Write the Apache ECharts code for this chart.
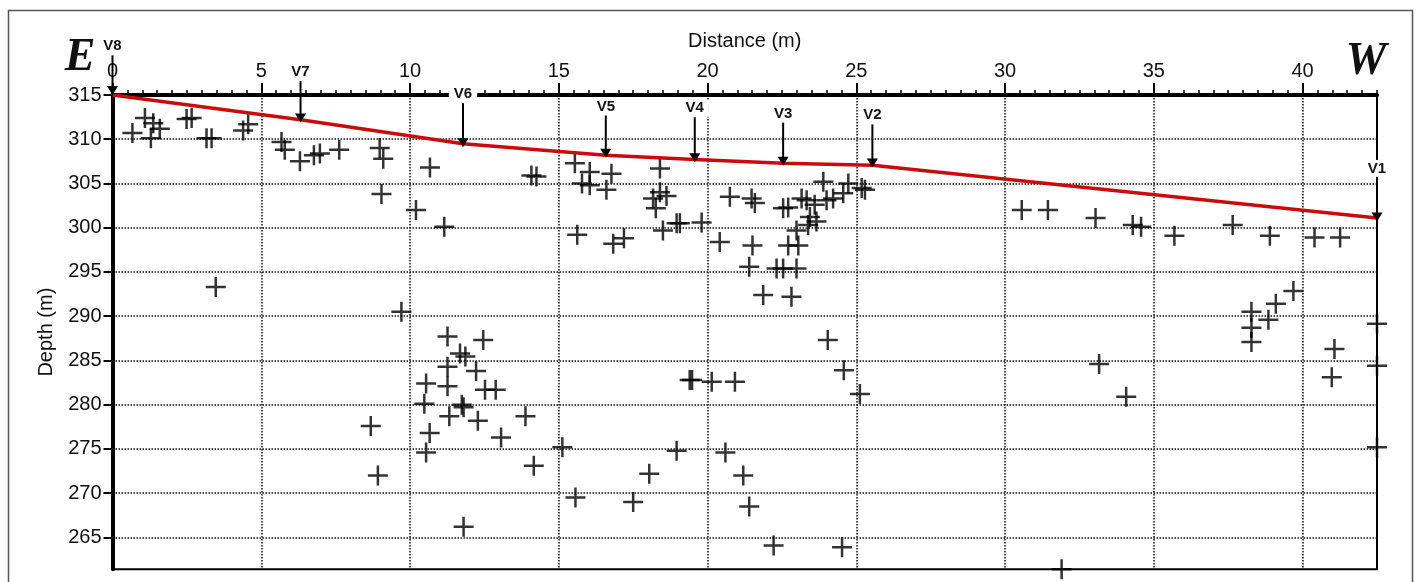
<!DOCTYPE html>
<html>
<head>
<meta charset="utf-8">
<script src="https://cdn.jsdelivr.net/npm/echarts@6.0.0/dist/echarts.min.js"></script>
<style>
  html, body { margin: 0; padding: 0; background: #fff; }
  #profile { width: 1421px; height: 582px; }
</style>
</head>
<body>
<div id="profile"></div>
<script>
// tick values
var xTicks = [0, 5, 10, 15, 20, 25, 30, 35, 40];
var yTicks = [265, 270, 275, 280, 285, 290, 295, 300, 305, 310, 315];

// survey stations (V8 at the east end, V1 at the west end)
var stationNames = ['V8', 'V7', 'V6', 'V5', 'V4', 'V3', 'V2', 'V1'];
var stationX = [0, 6.32, 11.78, 16.58, 19.57, 22.54, 25.54, 42.5];
var stationLabelZ = [320.5, 317.6, 315.1, 313.7, 313.5, 312.9, 312.7, 306.7];
var stationTipZ = [315, 311.9, 309.1, 307.9, 307.4, 307.0, 306.8, 300.7];
// ground surface elevation at the stations
var groundZ = [315, 312.2, 309.5, 308.2, 307.7, 307.3, 307.05, 301.1];

// located events: [distance, elevation]
var events = [
    [0.67, 310.7], [1.09, 312.4], [1.29, 310.1], [1.37, 311.8], [1.59, 311.2],
    [2.49, 312.3], [2.66, 312.4], [3.16, 310.1], [3.33, 310.1], [4.39, 311.0],
    [4.56, 311.7], [5.68, 309.7], [5.79, 308.8], [6.30, 307.5], [6.77, 308.2],
    [6.97, 308.4], [7.62, 308.8], [8.98, 309.0], [9.10, 307.8], [9.04, 303.8],
    [10.67, 306.8], [10.20, 302.0], [11.15, 300.1], [14.08, 305.9], [14.25, 305.8],
    [3.47, 293.3], [9.71, 290.5],
    [15.54, 307.3], [16.04, 306.3], [15.78, 305.0], [16.04, 304.8], [16.77, 306.1],
    [16.6, 304.3], [18.4, 306.7], [18.17, 303.3], [18.4, 304.0], [18.62, 303.6],
    [18.26, 302.2], [18.5, 299.7], [18.96, 300.5], [19.07, 300.5], [19.8, 300.6],
    [20.75, 303.5], [21.48, 303.3], [21.59, 302.8], [20.41, 298.4], [21.51, 298.0],
    [21.4, 295.6], [21.87, 292.4], [22.82, 292.2], [22.54, 302.2], [22.71, 302.3],
    [23.89, 305.2], [23.16, 303.3], [23.33, 303.1], [23.6, 302.6], [23.44, 301.2],
    [23.66, 300.7], [24.0, 303.1], [24.22, 303.3], [22.99, 299.7], [23.38, 300.3],
    [22.71, 298.0], [23.05, 298.0], [22.32, 295.4], [22.54, 295.4], [22.99, 295.4],
    [24.56, 303.9], [24.73, 305.0], [25.18, 304.5], [25.29, 304.3],
    [15.62, 299.2], [16.83, 298.2], [17.19, 298.8],
    [11.26, 287.7], [12.46, 287.3], [11.86, 285.45], [11.68, 285.8], [11.26, 284.3],
    [12.22, 283.8], [10.54, 282.4], [11.26, 282.1], [12.52, 281.7], [12.88, 281.7],
    [10.48, 280.1], [11.8, 279.7], [11.74, 280.0], [11.32, 278.7], [12.28, 278.2],
    [13.88, 278.7], [10.66, 276.8], [10.54, 274.6], [13.06, 276.3], [14.16, 273.1],
    [8.68, 277.6], [8.92, 272.0], [11.8, 266.2], [15.12, 275.2], [15.56, 269.5],
    [17.5, 269.0], [18.04, 272.2], [18.96, 274.8], [19.4, 282.8], [19.48, 282.8],
    [20.14, 282.6], [20.92, 282.6], [20.6, 274.6], [21.2, 272.0], [21.4, 268.5],
    [22.22, 264.1], [24.52, 263.9], [24.04, 287.3], [24.58, 283.9], [25.12, 281.2],
    [30.56, 302.0], [31.44, 302.0], [33.04, 301.1], [34.29, 300.3], [34.57, 300.1],
    [35.69, 299.1], [37.65, 300.3], [38.9, 299.1], [40.4, 298.9], [41.26, 298.9],
    [39.69, 292.85], [39.1, 291.4], [38.28, 290.5], [38.85, 289.6], [38.28, 288.7],
    [38.28, 287.1], [41.07, 286.3], [40.98, 283.1], [42.5, 289.15], [42.5, 284.4],
    [42.5, 275.2], [33.16, 284.6], [34.07, 280.9], [31.9, 261.4]
];

var ground = stationX.map(function (x, i) { return [x, groundZ[i]]; });
var stations = stationX.map(function (x, i) { return [x, stationLabelZ[i], stationTipZ[i]]; });

var font = 'Liberation Sans, Arial, sans-serif';
var chart = echarts.init(document.getElementById('profile'));

function renderStation(params, api) {
    var top = api.coord([api.value(0), api.value(1)]);
    var tip = api.coord([api.value(0), api.value(2)]);
    return {
        type: 'group',
        children: [
            {
                type: 'line',
                shape: { x1: tip[0], y1: top[1] + 9, x2: tip[0], y2: tip[1] - 6 },
                style: { stroke: '#000', lineWidth: 2 }
            },
            {
                type: 'polygon',
                shape: { points: [[tip[0] - 5.5, tip[1] - 9], [tip[0] + 5.5, tip[1] - 9], [tip[0], tip[1]]] },
                style: { fill: '#000' }
            },
            {
                type: 'text',
                x: top[0],
                y: top[1],
                style: {
                    text: stationNames[params.dataIndex],
                    align: 'center',
                    verticalAlign: 'middle',
                    font: 'bold 15px ' + font,
                    fill: '#111',
                    backgroundColor: '#fff',
                    padding: [1, 5]
                }
            }
        ]
    };
}

var option = {
    backgroundColor: '#fff',
    animation: false,
    grid: {
        left: 112.5,
        top: 95,
        width: 1264.5,
        height: 474.3,
        show: true,
        borderColor: '#000',
        borderWidth: 2,
        backgroundColor: 'transparent'
    },
    graphic: [
        {
            type: 'rect',
            shape: { x: 8.5, y: 10.5, width: 1404, height: 600 },
            style: { fill: 'none', stroke: '#555', lineWidth: 1.5 },
            z: -1
        },
        {
            type: 'text', x: 80, y: 58,
            style: { text: 'E', font: 'italic bold 46px Liberation Serif, serif', fill: '#111', align: 'center', verticalAlign: 'middle' }
        },
        {
            type: 'text', x: 1366, y: 62,
            style: { text: 'W', font: 'italic bold 46px Liberation Serif, serif', fill: '#111', align: 'center', verticalAlign: 'middle' }
        }
    ],
    xAxis: [
        {
            type: 'value',
            position: 'top',
            min: 0,
            max: 42.5,
            minInterval: 5,
            maxInterval: 5,
            name: 'Distance (m)',
            nameLocation: 'middle',
            nameGap: 44,
            nameTextStyle: { fontSize: 20, fontFamily: font, color: '#111' },
            axisLine: { onZero: false, lineStyle: { color: '#000', width: 4 } },
            axisTick: { customValues: xTicks, length: 12, lineStyle: { color: '#000', width: 2 } },
            axisLabel: { customValues: xTicks, margin: 14, fontSize: 20, fontFamily: font, color: '#111' },
            splitLine: { show: true, lineStyle: { color: '#111', width: 1.5, type: 'dotted' } }
        },
        {
            type: 'value',
            position: 'top',
            min: 0,
            max: 42.5,
            interval: 0.5,
            axisLine: { show: false, onZero: false },
            axisTick: { length: 5, lineStyle: { color: '#000', width: 1.5 } },
            axisLabel: { show: false },
            splitLine: { show: false }
        }
    ],
    yAxis: {
        type: 'value',
        min: 261.4,
        max: 315,
        name: 'Depth (m)',
        nameLocation: 'middle',
        nameGap: 56,
        nameTextStyle: { fontSize: 20, fontFamily: font, color: '#111' },
        axisLine: { show: true, onZero: false, lineStyle: { color: '#000', width: 4 } },
        axisTick: { show: true, customValues: yTicks, length: 9, lineStyle: { color: '#000', width: 2 } },
        axisLabel: { customValues: yTicks, margin: 11, fontSize: 20, fontFamily: font, color: '#111' },
        splitLine: { show: true, lineStyle: { color: '#111', width: 1.5, type: 'dotted' } }
    },
    series: [
        {
            name: 'events',
            type: 'scatter',
            clip: false,
            symbol: 'path://M8.75,0 L11.25,0 L11.25,20 L8.75,20 Z M0,8.75 L20,8.75 L20,11.25 L0,11.25 Z',
            symbolSize: [20, 20],
            itemStyle: { color: '#000' },
            data: events,
            z: 3
        },
        {
            name: 'ground',
            type: 'line',
            symbol: 'none',
            lineStyle: { color: '#c80c0c', width: 3.5 },
            data: ground,
            z: 4
        },
        {
            name: 'stations',
            type: 'custom',
            renderItem: renderStation,
            data: stations,
            z: 5
        }
    ]
};

chart.setOption(option);
</script>
</body>
</html>
